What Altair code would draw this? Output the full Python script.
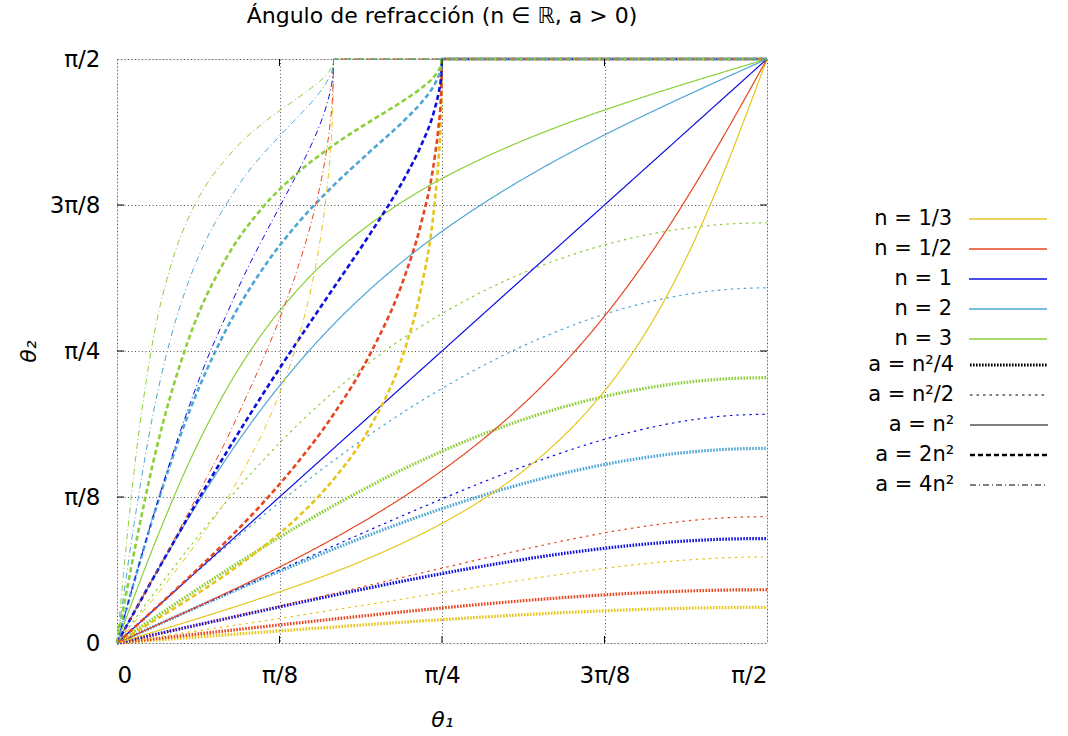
import altair as alt
import pandas as pd

# Incidence angles (degrees) at which each family of curves is sampled.
THETA1_LOW = [0, 5, 10, 15, 20, 25, 30, 35, 40, 45, 50, 55, 60, 65, 70, 75, 80, 85, 90]
THETA1_EQ = [0, 5, 10, 15, 20, 25, 30, 35, 40, 45, 50, 55, 60, 65, 70, 75, 80, 85, 87.5, 90]
THETA1_2X = [0, 2.5, 5, 10, 15, 20, 25, 30, 35, 40, 42, 44, 44.5, 44.9, 45, 90]
THETA1_4X = [0, 2.5, 5, 7.5, 10, 12.5, 15, 17.5, 20, 22.5, 25, 27, 28, 29, 29.5, 29.9, 30, 90]

N_LABELS = ["n = 1/3", "n = 1/2", "n = 1", "n = 2", "n = 3"]
N_COLORS = ["#e6c51c", "#e6461f", "#0d0de0", "#4ea6d6", "#8ccf3a"]

A_LABELS = ["a = n²/4", "a = n²/2", "a = n²", "a = 2n²", "a = 4n²"]
A_DASHES = [[1.6, 1.4], [2.5, 4], [1, 0], [5, 3], [6, 3, 1, 3]]
A_WIDTHS = [3.2, 1.2, 1.2, 2.6, 1.0]

# Refraction angle theta2 (degrees) for each n, one table per a.
A_QUARTER = {
    "n = 1/3": [0, 0.42, 0.83, 1.25, 1.66, 2.06, 2.46, 2.86, 3.24, 3.60, 3.95, 4.28, 4.58, 4.84, 5.07, 5.25, 5.39, 5.47, 5.50],
    "n = 1/2": [0, 0.62, 1.25, 1.87, 2.48, 3.09, 3.69, 4.28, 4.85, 5.40, 5.92, 6.40, 6.85, 7.24, 7.58, 7.85, 8.05, 8.17, 8.21],
    "n = 1": [0, 1.25, 2.50, 3.73, 4.96, 6.17, 7.36, 8.51, 9.63, 10.70, 11.71, 12.65, 13.51, 14.26, 14.90, 15.42, 15.80, 16.03, 16.10],
    "n = 2": [0, 2.50, 4.98, 7.44, 9.85, 12.20, 14.48, 16.67, 18.75, 20.71, 22.52, 24.18, 25.66, 26.95, 28.02, 28.88, 29.50, 29.88, 30.00],
    "n = 3": [0, 3.74, 7.45, 11.08, 14.59, 17.97, 21.17, 24.18, 26.99, 29.55, 31.88, 33.96, 35.78, 37.33, 38.60, 39.60, 40.32, 40.75, 40.89],
}
A_HALF = {
    "n = 1/3": [0, 0.83, 1.67, 2.51, 3.36, 4.22, 5.09, 5.97, 6.86, 7.75, 8.64, 9.51, 10.35, 11.13, 11.84, 12.43, 12.88, 13.17, 13.26],
    "n = 1/2": [0, 1.25, 2.50, 3.77, 5.03, 6.32, 7.61, 8.92, 10.23, 11.54, 12.83, 14.10, 15.32, 16.45, 17.45, 18.29, 18.94, 19.34, 19.47],
    "n = 1": [0, 2.50, 5.00, 7.50, 9.99, 12.49, 14.96, 17.42, 19.84, 22.21, 24.50, 26.68, 28.71, 30.56, 32.16, 33.47, 34.45, 35.06, 35.26],
    "n = 2": [0, 4.99, 9.93, 14.75, 19.42, 23.89, 28.13, 32.11, 35.82, 39.23, 42.34, 45.14, 47.60, 49.74, 51.51, 52.90, 53.92, 54.53, 54.74],
    "n = 3": [0, 7.46, 14.71, 21.55, 27.87, 33.60, 38.72, 43.27, 47.27, 50.77, 53.81, 56.44, 58.67, 60.54, 62.07, 63.25, 64.09, 64.59, 64.76],
}
A_ONE = {
    "n = 1/3": [0, 1.67, 3.36, 5.10, 6.92, 8.84, 10.89, 13.14, 15.63, 18.43, 21.67, 25.46, 30.00, 35.56, 42.49, 51.21, 62.12, 75.29, 82.54, 90],
    "n = 1/2": [0, 2.50, 5.04, 7.63, 10.31, 13.12, 16.10, 19.30, 22.76, 26.57, 30.79, 35.53, 40.89, 47.00, 53.95, 61.81, 70.57, 80.07, 85.01, 90],
    "n = 1": [0, 5, 10, 15, 20, 25, 30, 35, 40, 45, 50, 55, 60, 65, 70, 75, 80, 85, 87.5, 90],
    "n = 2": [0, 9.93, 19.43, 28.19, 36.05, 43.00, 49.11, 54.47, 59.21, 63.43, 67.24, 70.70, 73.90, 76.88, 79.69, 82.37, 84.96, 87.50, 88.75, 90],
    "n = 3": [0, 14.71, 27.88, 38.79, 47.51, 54.44, 60.00, 64.54, 68.33, 71.57, 74.37, 76.86, 79.11, 81.17, 83.08, 84.90, 86.64, 88.33, 89.17, 90],
}
A_TWO = {
    "n = 1/3": [0, 1.67, 3.35, 6.81, 10.50, 14.60, 19.36, 25.24, 33.18, 45.80, 54.07, 68.03, 74.21, 82.85, 90, 90],
    "n = 1/2": [0, 2.50, 5.02, 10.16, 15.54, 21.34, 27.80, 35.26, 44.44, 57.04, 64.21, 74.95, 79.33, 85.22, 90, 90],
    "n = 1": [0, 4.99, 9.96, 19.71, 29.09, 38.01, 46.51, 54.74, 62.98, 72.04, 76.42, 82.34, 84.62, 87.60, 90, 90],
    "n = 2": [0, 9.92, 19.36, 35.63, 48.05, 57.39, 64.63, 70.53, 75.70, 80.79, 83.11, 86.15, 87.30, 88.80, 90, 90],
    "n = 3": [0, 14.69, 27.79, 47.07, 59.07, 66.90, 72.45, 76.74, 80.36, 83.83, 85.40, 87.43, 88.20, 89.20, 90, 90],
}
A_FOUR = {
    "n = 1/3": [0, 3.34, 6.73, 10.22, 13.87, 17.75, 21.80, 26.65, 32.01, 38.41, 46.52, 55.31, 61.20, 69.27, 75.20, 83.33, 90, 90],
    "n = 1/2": [0, 5.00, 10.04, 15.13, 20.32, 25.65, 30.96, 36.98, 43.16, 49.94, 57.70, 65.23, 69.87, 75.84, 80.01, 85.54, 90, 90],
    "n = 1": [0, 9.94, 19.50, 28.41, 36.53, 43.84, 50.19, 56.41, 61.93, 67.20, 72.46, 77.01, 79.62, 82.81, 84.97, 87.77, 90, 90],
    "n = 2": [0, 19.30, 35.30, 47.25, 55.98, 62.50, 67.38, 71.63, 75.07, 78.13, 81.02, 83.42, 84.77, 86.39, 87.48, 88.88, 90, 90],
    "n = 3": [0, 27.72, 46.73, 58.36, 65.77, 70.86, 74.48, 77.52, 79.92, 82.02, 83.98, 85.60, 86.50, 87.59, 88.32, 89.26, 90, 90],
}

TICKS = [0, 22.5, 45, 67.5, 90]
INNER_TICKS = [22.5, 45, 67.5]
TICK_TEXT = "datum.value == 0 ? '0' : datum.value == 22.5 ? 'π/8' : datum.value == 45 ? 'π/4' : datum.value == 67.5 ? '3π/8' : 'π/2'"

FONT = "DejaVu Sans"

families = [
    ("a = n²/4", THETA1_LOW, A_QUARTER),
    ("a = n²/2", THETA1_LOW, A_HALF),
    ("a = n²", THETA1_EQ, A_ONE),
    ("a = 2n²", THETA1_2X, A_TWO),
    ("a = 4n²", THETA1_4X, A_FOUR),
]
rows = []
for a_label, grid, table in families:
    for n_label in N_LABELS:
        for t1, t2 in zip(grid, table[n_label]):
            rows.append({"theta1": t1, "theta2": t2, "n": n_label, "a": a_label})
curves = pd.DataFrame(rows)
ticks = pd.DataFrame({"theta1": INNER_TICKS, "theta2": INNER_TICKS})

x_scale = alt.Scale(domain=[0, 90], nice=False, zero=False)
y_scale = alt.Scale(domain=[0, 90], nice=False, zero=False)

common_axis = dict(
    values=TICKS, labelExpr=TICK_TEXT, grid=True, gridDash=[1, 2.5], gridColor="#555555",
    gridWidth=1, domain=False, ticks=False, tickSize=0, labelFont=FONT, labelFontSize=23,
    labelColor="black", titleFont=FONT, titleFontSize=22, titleFontWeight="normal",
    titleFontStyle="italic", titleColor="black",
)
x_axis = alt.Axis(title="θ₁", labelPadding=21, titlePadding=22, **common_axis)
y_axis = alt.Axis(title="θ₂", labelPadding=17, titlePadding=9, titleAngle=-90, **common_axis)

# Legend entries: text right-aligned, followed by blank space (closed by a
# blank braille cell so it is not trimmed) so the line sample sits to its right.
PAD = "\u2003\u2003\u2003\u2002\u2004\u2800"
legend_common = dict(
    title=None, orient="none", symbolType="stroke", symbolSize=6084, labelAlign="right",
    labelOffset=0, labelExpr="datum.label + '" + PAD + "'", labelLimit=400, labelFont=FONT,
    labelFontSize=21, labelColor="black", clipHeight=20, rowPadding=9, padding=0, legendX=851,
)

lines = alt.Chart(curves).mark_line(interpolate="monotone").encode(
    x=alt.X("theta1:Q", scale=x_scale, axis=x_axis),
    y=alt.Y("theta2:Q", scale=y_scale, axis=y_axis),
    color=alt.Color("n:N", scale=alt.Scale(domain=N_LABELS, range=N_COLORS),
                    legend=alt.Legend(legendY=150, symbolStrokeWidth=1.4, **legend_common)),
    strokeDash=alt.StrokeDash("a:N", scale=alt.Scale(type="ordinal", domain=A_LABELS, range=A_DASHES),
                              legend=alt.Legend(legendY=296, symbolStrokeColor="black", **legend_common)),
    strokeWidth=alt.StrokeWidth("a:N", scale=alt.Scale(type="ordinal", domain=A_LABELS, range=A_WIDTHS),
                                legend=alt.Legend(legendY=296, symbolStrokeColor="black", **legend_common)),
)

# Inward tick marks on all four sides of the frame.
tick_base = alt.Chart(ticks)
bottom_ticks = tick_base.mark_rule(color="black", strokeWidth=1).encode(
    x=alt.X("theta1:Q", scale=x_scale, axis=x_axis), y=alt.value(584), y2=alt.value(577))
top_ticks = tick_base.mark_rule(color="black", strokeWidth=1).encode(
    x=alt.X("theta1:Q", scale=x_scale, axis=x_axis), y=alt.value(0), y2=alt.value(7))
left_ticks = tick_base.mark_rule(color="black", strokeWidth=1).encode(
    y=alt.Y("theta2:Q", scale=y_scale, axis=y_axis), x=alt.value(0), x2=alt.value(7))
right_ticks = tick_base.mark_rule(color="black", strokeWidth=1).encode(
    y=alt.Y("theta2:Q", scale=y_scale, axis=y_axis), x=alt.value(650), x2=alt.value(643))

chart = alt.layer(lines, bottom_ticks, top_ticks, left_ticks, right_ticks).properties(
    width=650,
    height=584,
    autosize=alt.AutoSizeParams(type="none"),
    padding={"left": 117, "top": 59, "right": 301, "bottom": 93},
    title=alt.Title("Ángulo de refracción (n ∈ ℝ, a > 0)", anchor="middle", frame="group",
                    font=FONT, fontSize=22, fontWeight="normal", color="black",
                    baseline="alphabetic", offset=3),
).configure_view(stroke="black", strokeWidth=1.6).configure(background="white")

chart.save("out.html", embed_options={"renderer": "svg", "actions": False})
